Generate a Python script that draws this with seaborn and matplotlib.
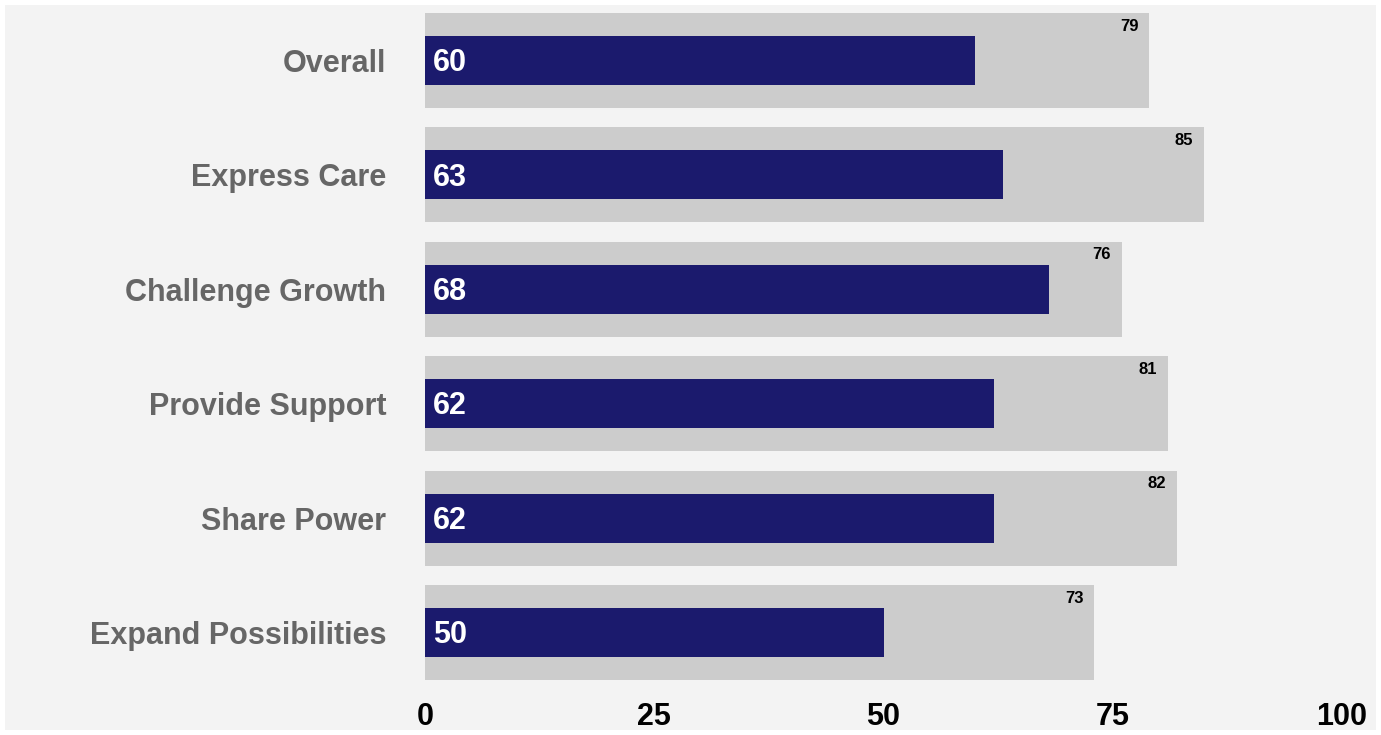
import pandas as pd
import matplotlib.pyplot as plt
import seaborn as sns

# ==== data ====
categories = ["Overall", "Express Care", "Challenge Growth",
              "Provide Support", "Share Power", "Expand Possibilities"]
scores = [60, 63, 68, 62, 62, 50]
benchmarks = [79, 85, 76, 81, 82, 73]
xticks = [0, 25, 50, 75, 100]

df = pd.DataFrame({"category": categories, "score": scores, "benchmark": benchmarks})

# ==== style ====
bg = "#f3f3f3"
sns.set_theme(style="white")
plt.rcParams["font.family"] = ["Liberation Sans", "DejaVu Sans"]

W, H = 1381, 735
fig = plt.figure(figsize=(W / 100, H / 100), dpi=100, facecolor=bg)
fig.patch.set_edgecolor("white")
fig.patch.set_linewidth(6)
ax = fig.add_axes([425 / W, 1 - 680 / H, (1342 - 425) / W, (680 - 13) / H])
ax.set_facecolor(bg)

sns.barplot(data=df, y="category", x="benchmark", order=categories, orient="h",
            color="#cccccc", width=0.83, saturation=1, linewidth=0, ax=ax)
sns.barplot(data=df, y="category", x="score", order=categories, orient="h",
            color="#1b1a6d", width=0.43, saturation=1, linewidth=0, ax=ax)

ax.set_xlim(0, 100)
ax.set_ylim(5.415, -0.415)
ax.set_xticks(xticks)
ax.set_xlabel("")
ax.set_ylabel("")
for s in ax.spines.values():
    s.set_visible(False)

ax.tick_params(axis="x", length=0, pad=16, labelsize=22, labelcolor="black")
ax.tick_params(axis="y", length=0, pad=28, labelsize=22, labelcolor="#666666")
for lab in ax.get_xticklabels() + ax.get_yticklabels():
    lab.set_fontweight("bold")

# value labels
for i, (s, b) in enumerate(zip(scores, benchmarks)):
    ax.annotate(str(s), xy=(0, i), xytext=(6, -2), textcoords="offset points",
                ha="left", va="center", color="white", fontsize=22, fontweight="bold")
    ax.annotate(str(b), xy=(b, i - 0.415), xytext=(-8, -4), textcoords="offset points",
                ha="right", va="top", color="black", fontsize=12, fontweight="bold")

fig.savefig("out.png", dpi=100, facecolor=bg, edgecolor="white")
